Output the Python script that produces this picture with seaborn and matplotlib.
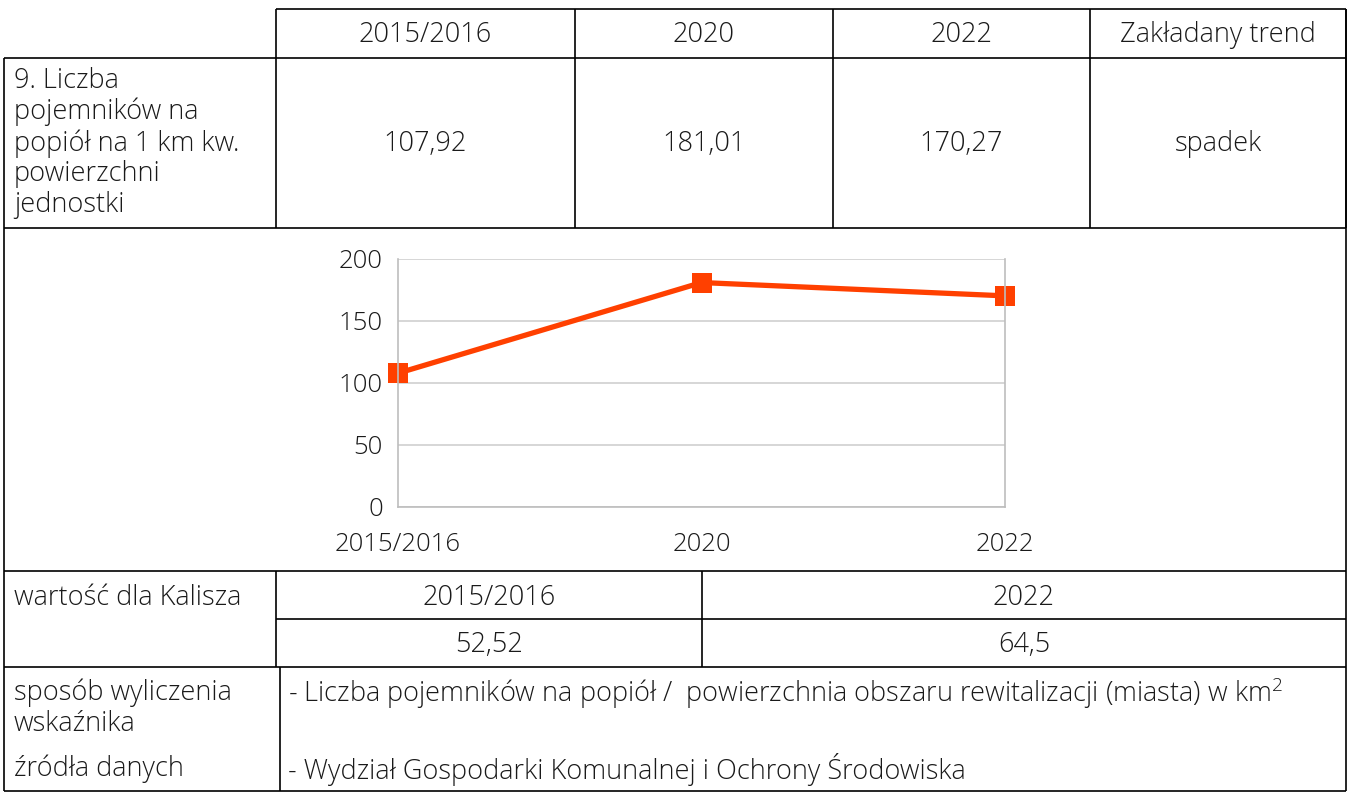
import matplotlib
matplotlib.use("Agg")
import matplotlib.pyplot as plt
import seaborn as sns
import pandas as pd

# data
years = ["2015/2016", "2020", "2022"]
values = [107.92, 181.01, 170.27]
trend_label = "Zakładany trend"
trend = "spadek"
indicator = "9. Liczba\npojemników na\npopiół na 1 km kw.\npowierzchni\njednostki"
kalisz_years = ["2015/2016", "2022"]
kalisz_values = [52.52, 64.5]
y_ticks = [0, 50, 100, 150, 200]
method_text = "- Liczba pojemników na popiół /  powierzchnia obszaru rewitalizacji (miasta) w km$^2$"
source_text = "- Wydział Gospodarki Komunalnej i Ochrony Środowiska"

LINE_COLOR = "#ff4000"
TXT = "#1a1a1a"
FS = 19.5
DY = 3  # matplotlib centres on the full text box, nudge down a bit

sns.set_theme(style="white")
plt.rcParams["font.family"] = ["Open Sans", "DejaVu Sans"]
plt.rcParams["font.weight"] = "light"
plt.rcParams["mathtext.default"] = "regular"

W, H = 1348, 792
fig = plt.figure(figsize=(W / 100, H / 100), dpi=100)

# table layer in pixel coordinates
tab = fig.add_axes([0, 0, 1, 1])
tab.set_xlim(0, W)
tab.set_ylim(H, 0)
tab.axis("off")


def hline(y, x0, x1):
    tab.plot([x0, x1], [y, y], color="black", lw=1.2, solid_capstyle="butt")


def vline(x, y0, y1):
    tab.plot([x, x], [y0, y1], color="black", lw=1.2, solid_capstyle="butt")


def put(x, y, s, ha="left", **kw):
    tab.text(x, y + DY, s, ha=ha, va="center", fontsize=FS, color=TXT, **kw)


def fmt(v):
    return f"{v:g}".replace(".", ",")


cols = [276, 575, 833, 1090, 1346]
hline(9, 276, 1346)
hline(58, 4, 1346)
hline(228, 4, 1346)
hline(571, 4, 1346)
hline(619, 276, 1346)
hline(667, 4, 1346)
hline(791, 4, 1346)
for x in cols:
    vline(x, 9, 228)
vline(4, 58, 791)
vline(1346, 9, 791)
vline(276, 571, 667)
vline(702, 571, 667)
vline(280, 667, 791)

heads = years + [trend_label]
cells = [fmt(v) for v in values] + [trend]
for i in range(4):
    cx = (cols[i] + cols[i + 1]) / 2
    put(cx, 32, heads[i], ha="center")
    put(cx, 141, cells[i], ha="center")
put(14, 140, indicator, linespacing=1.12)

put(14, 595, "wartość dla Kalisza")
for cx, yr, v in zip([489, 1024], kalisz_years, kalisz_values):
    put(cx, 595, yr, ha="center")
    put(cx, 642, fmt(v), ha="center")

put(14, 705, "sposób wyliczenia\nwskaźnika", linespacing=1.12)
put(14, 766, "źródła danych")
put(288, 690, method_text)
put(288, 766, source_text)

# embedded line chart
x0, x1, ytop, ybot = 398, 1005, 259, 507
ax = fig.add_axes([x0 / W, 1 - ybot / H, (x1 - x0) / W, (ybot - ytop) / H])
df = pd.DataFrame({"rok": years, "wartosc": values})
sns.lineplot(data=df, x="rok", y="wartosc", ax=ax, color=LINE_COLOR, lw=3.8,
             marker="s", markersize=14, markeredgewidth=0, sort=False)
for ln in ax.lines:
    ln.set_clip_on(False)
ax.set_xlim(0, len(years) - 1)
ax.set_ylim(0, 200)
ax.set_yticks(y_ticks)
ax.set_xlabel("")
ax.set_ylabel("")
ax.grid(axis="y", color="#d0d0d0", lw=1.2)
ax.set_axisbelow(True)
for s in ax.spines.values():
    s.set_color("#bdbdbd")
    s.set_linewidth(1.2)
ax.spines["top"].set_visible(False)
ax.tick_params(axis="both", length=7, width=1.2, color="#bdbdbd", labelsize=18.5,
               labelcolor=TXT, direction="out")
ax.tick_params(axis="x", pad=11)
ax.tick_params(axis="y", pad=4)

fig.savefig("out.png", dpi=100)
